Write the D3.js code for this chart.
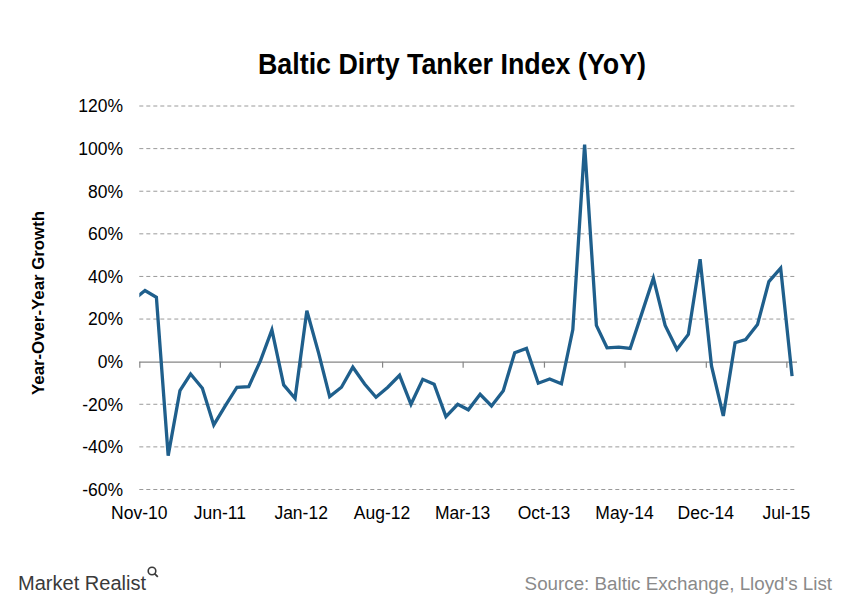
<!DOCTYPE html>
<html><head><meta charset="utf-8">
<script src="https://cdn.jsdelivr.net/npm/d3@7"></script>
<style>
body{margin:0;background:#fff;}
text{font-family:"Liberation Sans",Arial,sans-serif;}
</style></head>
<body>
<svg id="chart" width="841" height="601"></svg>
<script>
// ---- data ----
const months = ["2010-10","2010-11","2010-12","2011-01","2011-02","2011-03","2011-04","2011-05","2011-06","2011-07","2011-08","2011-09","2011-10","2011-11","2011-12",
"2012-01","2012-02","2012-03","2012-04","2012-05","2012-06","2012-07","2012-08","2012-09","2012-10","2012-11","2012-12",
"2013-01","2013-02","2013-03","2013-04","2013-05","2013-06","2013-07","2013-08","2013-09","2013-10","2013-11","2013-12",
"2014-01","2014-02","2014-03","2014-04","2014-05","2014-06","2014-07","2014-08","2014-09","2014-10","2014-11","2014-12",
"2015-01","2015-02","2015-03","2015-04","2015-05","2015-06","2015-07"];
const yoy = [29, 33.4, 30.2, -44.1, -13.6, -5.8, -12.5, -29.7, -20.5, -12.0, -11.7, 0.5, 14.9, -10.9, -17.2,
23.9, 4.0, -16.4, -12.0, -2.6, -10.5, -16.7, -12.0, -6.4, -20.0, -8.3, -10.6,
-25.8, -20.0, -22.6, -15.3, -20.8, -13.6, 4.2, 6.2, -10.1, -8.1, -10.4, 15.1,
101.9, 17.0, 6.5, 6.8, 6.2, 22.9, 39.2, 17.0, 5.8, 12.8, 48.1, -2.0,
-25.5, 8.9, 10.4, 17.4, 37.6, 43.9, -6.8];
const xTickLabels = ["Nov-10","Jun-11","Jan-12","Aug-12","Mar-13","Oct-13","May-14","Dec-14","Jul-15"];
const yTicks = [120,100,80,60,40,20,0,-20,-40,-60];
const title = "Baltic Dirty Tanker Index (YoY)";
const yTitle = "Year-Over-Year Growth";
const source = "Source: Baltic Exchange, Lloyd's List";

// ---- layout ----
const svg = d3.select("#chart");
const L = 139.3, R = 797, T = 106, B = 489.5;
const parseM = d3.timeParse("%Y-%m");
const parseL = d3.timeParse("%b-%y");
const x = d3.scaleTime()
  .domain([new Date(2010,10,1), new Date(2015,6,29)])
  .range([L, R]);
const y = d3.scaleLinear().domain([-60,120]).range([B, T]);
const data = months.map((m,i)=>{const d=parseM(m); d.setDate(16); return {date:d, v:yoy[i]};});

// title
svg.append("text").attr("x",452).attr("y",74).attr("text-anchor","middle")
  .attr("font-size",30).attr("font-weight","bold").attr("fill","#000")
  .attr("textLength",388).attr("lengthAdjust","spacingAndGlyphs")
  .text(title);

// gridlines
svg.append("g").selectAll("line").data(yTicks.filter(t=>t!==0)).join("line")
  .attr("x1",L).attr("x2",R).attr("y1",d=>y(d)).attr("y2",d=>y(d))
  .attr("stroke","#9a9a9a").attr("stroke-width",1).attr("stroke-dasharray","4,3");

// y labels
svg.append("g").selectAll("text").data(yTicks).join("text")
  .attr("x",123).attr("y",d=>y(d)).attr("dy","0.36em").attr("text-anchor","end")
  .attr("font-size",17.5).attr("fill","#000").text(d=>d+"%");

// y title
svg.append("text").attr("transform","translate(44,303) rotate(-90)")
  .attr("text-anchor","middle").attr("font-size",16).attr("font-weight","bold")
  .attr("fill","#000").attr("textLength",184).attr("lengthAdjust","spacingAndGlyphs").text(yTitle);

// zero axis with ticks
const xTickDates = xTickLabels.map(s=>parseL(s));
const xAxis = svg.append("g").attr("transform",`translate(0,${y(0)})`)
  .call(d3.axisBottom(x).tickValues(xTickDates).tickSize(6).tickFormat(""));
xAxis.select(".domain").attr("d",`M${L},0.5H${R}`).attr("stroke","#868686").attr("stroke-width",1.2);
xAxis.selectAll(".tick line").attr("stroke","#868686").attr("stroke-width",1.2);

// x labels at bottom
svg.append("g").selectAll("text").data(xTickDates).join("text")
  .attr("x",d=>x(d)).attr("y",519).attr("text-anchor","middle")
  .attr("font-size",17.5).attr("fill","#000")
  .text((d,i)=>xTickLabels[i]);

// clip + line
svg.append("clipPath").attr("id","pc").append("rect")
  .attr("x",L).attr("y",0).attr("width",R-L+10).attr("height",601);
svg.append("path").datum(data).attr("clip-path","url(#pc)")
  .attr("fill","none").attr("stroke","#1f5f8c").attr("stroke-width",3.3)
  .attr("stroke-linejoin","miter")
  .attr("d",d3.line().x(d=>x(d.date)).y(d=>y(d.v)));

// footer
svg.append("text").attr("x",832).attr("y",590).attr("text-anchor","end")
  .attr("font-size",18.8).attr("fill","#8a8a8a").text(source);
const logo = svg.append("g");
logo.append("text").attr("x",18).attr("y",590).attr("font-size",20)
  .attr("fill","#3a3a3a").attr("textLength",128).attr("lengthAdjust","spacingAndGlyphs").text("Market Realist");
logo.append("circle").attr("cx",152).attr("cy",571).attr("r",3.8)
  .attr("fill","none").attr("stroke","#3a3a3a").attr("stroke-width",1.6);
logo.append("line").attr("x1",154.6).attr("y1",573.6).attr("x2",157.8).attr("y2",576.8)
  .attr("stroke","#3a3a3a").attr("stroke-width",1.8);
</script>
</body></html>
